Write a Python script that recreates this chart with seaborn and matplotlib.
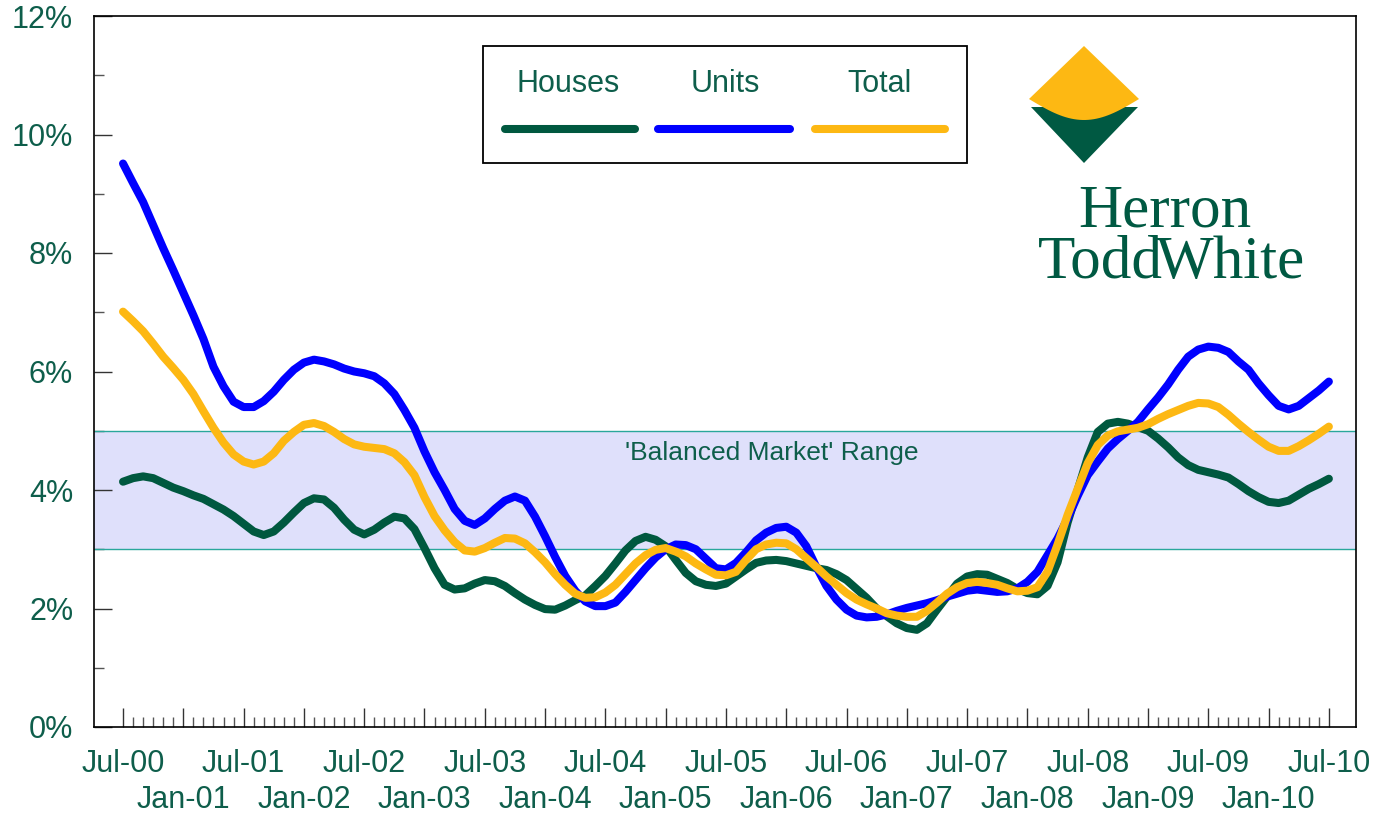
import numpy as np
import pandas as pd
import matplotlib
matplotlib.use("Agg")
import matplotlib.pyplot as plt
import seaborn as sns
from matplotlib.patches import Polygon, Rectangle
from matplotlib.lines import Line2D

# months since Jul-00 (0 = Jul-00, 120 = Jul-10)
months = list(range(0, 121))

houses = [4.14, 4.20, 4.23, 4.20, 4.12, 4.04, 3.98, 3.91, 3.85, 3.76,
          3.67, 3.56, 3.43, 3.30, 3.24, 3.30, 3.45, 3.62, 3.78, 3.86,
          3.84, 3.70, 3.50, 3.33, 3.25, 3.33, 3.45, 3.55, 3.52, 3.34,
          3.02, 2.68, 2.40, 2.32, 2.34, 2.42, 2.48, 2.46, 2.38, 2.26,
          2.15, 2.06, 1.99, 1.98, 2.05, 2.14, 2.22, 2.38, 2.55, 2.76,
          2.98, 3.14, 3.21, 3.16, 3.05, 2.82, 2.60, 2.46, 2.40, 2.38,
          2.42, 2.54, 2.66, 2.77, 2.81, 2.82, 2.80, 2.76, 2.72, 2.68,
          2.65, 2.58, 2.48, 2.33, 2.18, 2.00, 1.87, 1.75, 1.67, 1.64,
          1.75, 1.98, 2.20, 2.42, 2.54, 2.58, 2.57, 2.50, 2.43, 2.33,
          2.26, 2.24, 2.38, 2.78, 3.45, 4.00, 4.55, 4.98, 5.12, 5.15,
          5.12, 5.06, 5.00, 4.87, 4.72, 4.55, 4.42, 4.34, 4.30, 4.26,
          4.21, 4.10, 3.98, 3.88, 3.80, 3.78, 3.82, 3.92, 4.02, 4.10,
          4.19]

units = [9.51, 9.18, 8.86, 8.47, 8.08, 7.71, 7.33, 6.95, 6.55, 6.08,
         5.75, 5.49, 5.40, 5.40, 5.50, 5.66, 5.86, 6.03, 6.15, 6.20,
         6.17, 6.12, 6.05, 6.00, 5.97, 5.92, 5.80, 5.62, 5.35, 5.05,
         4.65, 4.30, 4.00, 3.68, 3.48, 3.41, 3.52, 3.68, 3.82, 3.89,
         3.82, 3.55, 3.22, 2.87, 2.55, 2.30, 2.12, 2.04, 2.04, 2.10,
         2.28, 2.48, 2.68, 2.86, 3.00, 3.08, 3.07, 3.00, 2.84, 2.68,
         2.66, 2.77, 2.95, 3.15, 3.28, 3.36, 3.38, 3.28, 3.05, 2.70,
         2.38, 2.15, 1.98, 1.88, 1.85, 1.86, 1.90, 1.96, 2.01, 2.05,
         2.09, 2.14, 2.20, 2.25, 2.30, 2.32, 2.30, 2.28, 2.29, 2.34,
         2.45, 2.62, 2.90, 3.18, 3.52, 3.90, 4.25, 4.48, 4.70, 4.86,
         5.00, 5.15, 5.36, 5.56, 5.78, 6.03, 6.25, 6.37, 6.42, 6.40,
         6.33, 6.17, 6.03, 5.80, 5.60, 5.42, 5.36, 5.42, 5.55, 5.68,
         5.83]

total = [7.01, 6.85, 6.68, 6.47, 6.25, 6.06, 5.86, 5.62, 5.33, 5.05,
         4.80, 4.60, 4.48, 4.43, 4.48, 4.62, 4.83, 4.98, 5.10, 5.13,
         5.08, 4.98, 4.86, 4.77, 4.73, 4.71, 4.69, 4.62, 4.47, 4.25,
         3.88, 3.56, 3.32, 3.12, 2.98, 2.96, 3.02, 3.11, 3.19, 3.18,
         3.10, 2.95, 2.78, 2.58, 2.40, 2.25, 2.18, 2.19, 2.27, 2.40,
         2.58, 2.76, 2.90, 2.99, 3.02, 2.96, 2.88, 2.76, 2.66, 2.57,
         2.56, 2.62, 2.82, 3.00, 3.08, 3.11, 3.10, 3.00, 2.85, 2.70,
         2.54, 2.40, 2.26, 2.15, 2.07, 2.00, 1.92, 1.88, 1.86, 1.86,
         1.96, 2.10, 2.25, 2.36, 2.43, 2.45, 2.43, 2.40, 2.34, 2.29,
         2.30, 2.36, 2.62, 3.08, 3.58, 4.02, 4.45, 4.76, 4.92, 4.99,
         5.02, 5.05, 5.11, 5.20, 5.28, 5.35, 5.42, 5.47, 5.46, 5.40,
         5.27, 5.12, 4.98, 4.85, 4.73, 4.66, 4.66, 4.74, 4.84, 4.95,
         5.07]

jul_labels = ["Jul-00", "Jul-01", "Jul-02", "Jul-03", "Jul-04", "Jul-05",
              "Jul-06", "Jul-07", "Jul-08", "Jul-09", "Jul-10"]
jan_labels = ["Jan-01", "Jan-02", "Jan-03", "Jan-04", "Jan-05", "Jan-06",
              "Jan-07", "Jan-08", "Jan-09", "Jan-10"]

series_names = ["Houses", "Units", "Total"]
band_low, band_high = 3, 5

GREEN = "#00583F"
TEXT = "#0E5E4B"
BLUE = "#0000FF"
GOLD = "#FDB813"
colors = {"Houses": GREEN, "Units": BLUE, "Total": GOLD}

df = pd.concat([
    pd.DataFrame({"month": months, "value": houses, "series": "Houses"}),
    pd.DataFrame({"month": months, "value": units, "series": "Units"}),
    pd.DataFrame({"month": months, "value": total, "series": "Total"}),
])

sns.set_theme(style="white")
plt.rcParams["font.family"] = ["Liberation Sans", "DejaVu Sans"]

W, H = 1384, 818
fig = plt.figure(figsize=(W / 100, H / 100), dpi=100)
ax = fig.add_axes([94 / W, (H - 727) / H, 1262 / W, 711 / H])

ax.axhspan(band_low, band_high, facecolor="#DFE0FB", edgecolor="none", zorder=0)
ax.axhline(band_low, color="#2AA79B", lw=1, zorder=1)
ax.axhline(band_high, color="#2AA79B", lw=1, zorder=1)
ax.text(64.6, 4.63, "'Balanced Market' Range", color=TEXT, fontsize=19,
        ha="center", va="center")

sns.lineplot(data=df, x="month", y="value", hue="series", palette=colors,
             hue_order=series_names, linewidth=5.8, sort=False, legend=False,
             ax=ax, solid_capstyle="round", solid_joinstyle="round", zorder=3)

ax.set_xlim(-2.89, 122.7)
ax.set_ylim(0, 12)
jan_pos = list(range(6, 120, 12))
ax.set_xticks(range(0, 121, 6))
ax.set_xticklabels([jul_labels[i // 2] if i % 2 == 0 else "" for i in range(21)])
ax.set_xticks(range(0, 121), minor=True)
for x, lab in zip(jan_pos, jan_labels):
    ax.text(x, -73 / 711, lab, transform=ax.get_xaxis_transform(), ha="center",
            va="center", fontsize=22, color=TEXT)
ax.set_yticks(range(0, 13, 2))
ax.set_yticklabels([f"{v}%" for v in range(0, 13, 2)])
ax.set_yticks(range(1, 12, 2), minor=True)
ax.set_xlabel("")
ax.set_ylabel("")
ax.tick_params(axis="x", which="major", direction="in", length=14, width=1,
               color="#333333", labelsize=22, labelcolor=TEXT, pad=16, bottom=True)
ax.tick_params(axis="x", which="minor", direction="in", length=7, width=1,
               color="#555555", bottom=True)
ax.tick_params(axis="y", which="major", direction="in", length=13, width=1,
               color="#333333", labelsize=22, labelcolor=TEXT, pad=15, left=True)
ax.tick_params(axis="y", which="minor", direction="in", length=7, width=1,
               color="#555555", left=True)
for s in ax.spines.values():
    s.set_color("black")
    s.set_linewidth(1.2)


def fx(px):
    return px / W


def fy(py):
    return 1 - py / H


# legend box
fig.add_artist(Rectangle((fx(483), fy(163)), fx(967) - fx(483), fy(46) - fy(163),
                         transform=fig.transFigure, facecolor="white",
                         edgecolor="black", lw=1.3, zorder=5))
legend_pos = [(568, 505, 635), (725, 658, 790), (880, 815, 945)]
for name, (cx, x0, x1) in zip(series_names, legend_pos):
    fig.text(fx(cx), fy(84), name, color=TEXT, fontsize=22, ha="center",
             va="center", zorder=6)
    fig.add_artist(Line2D([fx(x0), fx(x1)], [fy(129), fy(129)],
                          transform=fig.transFigure, color=colors[name],
                          lw=5.8, solid_capstyle="round", zorder=6))

# logo
green_tri = [(fx(1031), fy(107)), (fx(1084), fy(163)), (fx(1138), fy(107))]
fig.add_artist(Polygon(green_tri, closed=True, transform=fig.transFigure,
                       facecolor="#005942", edgecolor="none", zorder=5))
t = np.linspace(0, 1, 40)
arc_x = 1139 - 110 * t
arc_y = 99 + 21 * np.sin(np.pi * t)
yellow = [(fx(1029), fy(99)), (fx(1084), fy(46)), (fx(1139), fy(99))]
yellow += [(fx(a), fy(b)) for a, b in zip(arc_x, arc_y)]
fig.add_artist(Polygon(yellow, closed=True, transform=fig.transFigure,
                       facecolor=GOLD, edgecolor="none", zorder=6))
serif = ["Liberation Serif", "DejaVu Serif"]
fig.text(fx(1078), fy(227), "Herron", family=serif, fontsize=44, color="#005942",
         ha="left", va="baseline")
fig.text(fx(1038), fy(278), "Todd", family=serif, fontsize=44, color="#005942",
         ha="left", va="baseline")
fig.text(fx(1156), fy(278), "White", family=serif, fontsize=44, color="#005942",
         ha="left", va="baseline")

fig.savefig("out.png", dpi=100)
